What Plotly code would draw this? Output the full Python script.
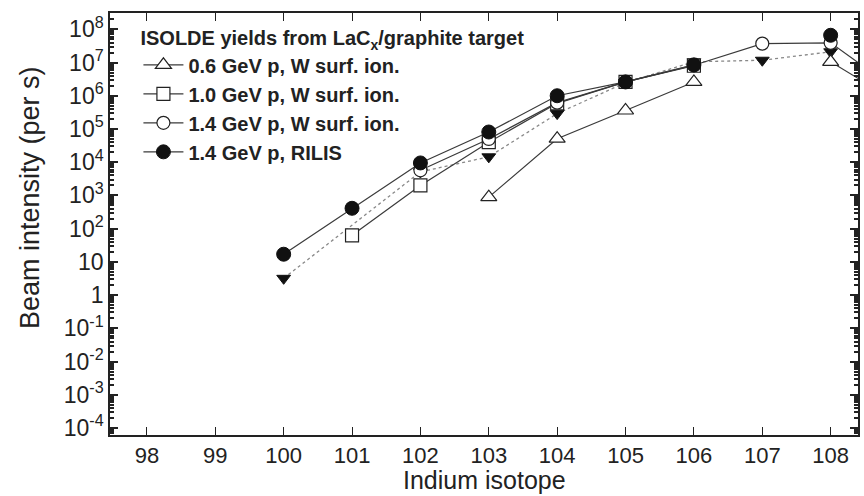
import numpy as np
import plotly.graph_objects as go

# ---- data ----
x_06 = [103, 104, 105, 106, 107, 108, 109]
y_06 = [8.9e2, 5.1e4, 3.6e5, 2.6e6, None, 1.05e7, 6.0e5]

x_10 = [101, 102, 103, 104, 105, 106]
y_10 = [63, 2.0e3, 4.0e4, 5.9e5, 2.6e6, 8.0e6]

x_14 = [102, 103, 104, 105, 106, 107, 108, 109]
y_14 = [5.7e3, 5.0e4, 6.2e5, 2.6e6, 8.3e6, 3.7e7, 3.9e7, 1.3e6]

x_ril = [100, 101, 102, 103, 104, 105, 106, 107, 108]
y_ril = [17, 4.1e2, 9.5e3, 8.1e4, 1.0e6, 2.6e6, 8.5e6, None, 6.6e7]

x_dn = [100, 102, 103, 104, 105, 106, 107, 108]
y_dn = [3.2, 5.1e3, 1.45e4, 2.9e5, 2.5e6, 1.05e7, 1.17e7, 2.1e7]

xticks = [98, 99, 100, 101, 102, 103, 104, 105, 106, 107, 108]
ytick_exp = [-4, -3, -2, -1, 0, 1, 2, 3, 4, 5, 6, 7, 8]
ytick_text = ["10<sup>-4</sup>", "10<sup>-3</sup>", "10<sup>-2</sup>", "10<sup>-1</sup>",
              "1", "10", "10<sup>2</sup>", "10<sup>3</sup>", "10<sup>4</sup>",
              "10<sup>5</sup>", "10<sup>6</sup>", "10<sup>7</sup>", "10<sup>8</sup>"]

legend_title = "<b>ISOLDE yields from LaC<sub>x</sub>/graphite target</b>"
names = ["<b>0.6 GeV p, W surf. ion.</b>", "<b>1.0 GeV p, W surf. ion.</b>",
         "<b>1.4 GeV p, W surf. ion.</b>", "<b>1.4 GeV p, RILIS</b>"]
x_title = "Indium isotope"
y_title = "Beam intensity (per s)"

LINE = "#3a3a3a"
fig = go.Figure()

# dotted series (not in legend)
fig.add_trace(go.Scatter(
    x=x_dn, y=y_dn, mode="lines+markers", showlegend=False,
    line=dict(color="#888888", width=1.3, dash="dot"),
    marker=dict(symbol="triangle-down", size=12, color="#111111",
                line=dict(color="#111111", width=1))))

fig.add_trace(go.Scatter(
    x=x_06, y=y_06, mode="lines+markers", name=names[0], legendgroup="a",
    line=dict(color=LINE, width=1.2),
    marker=dict(symbol="triangle-up", size=14, color="white",
                line=dict(color="#222222", width=1.2))))
fig.add_trace(go.Scatter(
    x=x_10, y=y_10, mode="lines+markers", name=names[1], legendgroup="b",
    line=dict(color=LINE, width=1.2),
    marker=dict(symbol="square", size=13, color="white",
                line=dict(color="#222222", width=1.2))))
fig.add_trace(go.Scatter(
    x=x_14, y=y_14, mode="lines+markers", name=names[2], legendgroup="c",
    line=dict(color=LINE, width=1.2),
    marker=dict(symbol="circle", size=13, color="white",
                line=dict(color="#222222", width=1.2))))
fig.add_trace(go.Scatter(
    x=x_ril, y=y_ril, mode="lines+markers", name=names[3], legendgroup="d",
    line=dict(color=LINE, width=1.2),
    marker=dict(symbol="circle", size=14, color="#111111",
                line=dict(color="#111111", width=1))))

minor_vals = [m * 10.0 ** e for e in range(-5, 9) for m in range(2, 10)]

axis_common = dict(showline=True, linecolor="#222222", linewidth=1.5,
                   mirror="ticks", ticks="inside", tickcolor="#222222",
                   showgrid=False, zeroline=False)

fig.update_layout(
    width=864, height=496,
    margin=dict(l=110, r=4, t=13, b=61),
    paper_bgcolor="white", plot_bgcolor="white",
    font=dict(family="Liberation Sans, Arial, sans-serif", color="#222222"),
    xaxis=dict(range=[97.46, 108.40], tickvals=xticks, ticklen=8, tickwidth=1.2,
               tickfont=dict(size=22), **axis_common),
    yaxis=dict(type="log", range=[-4.21, 8.49],
               tickvals=[10.0 ** e for e in ytick_exp], ticktext=ytick_text,
               ticklen=8, tickwidth=2, tickfont=dict(size=23),
               minor=dict(tickvals=minor_vals, ticks="inside", ticklen=4,
                          tickcolor="#222222", showgrid=False),
               **axis_common),
    legend=dict(x=0.038, y=0.985, xanchor="left", yanchor="top",
                bgcolor="rgba(255,255,255,0)", borderwidth=0,
                font=dict(size=20, color="#222222"),
                title=dict(text=legend_title, font=dict(size=20, color="#222222")),
                traceorder="grouped", tracegroupgap=0, itemwidth=40),
    annotations=[
        dict(text=y_title, textangle=-90, xref="paper", yref="paper",
             x=-80 / 750, y=0.562, xanchor="center", yanchor="middle",
             showarrow=False, font=dict(size=27, color="#222222")),
        dict(text=x_title, xref="paper", yref="paper",
             x=0.5, y=-45 / 422, xanchor="center", yanchor="middle",
             showarrow=False, font=dict(size=25, color="#222222")),
    ],
)

fig.write_html("out.html")
